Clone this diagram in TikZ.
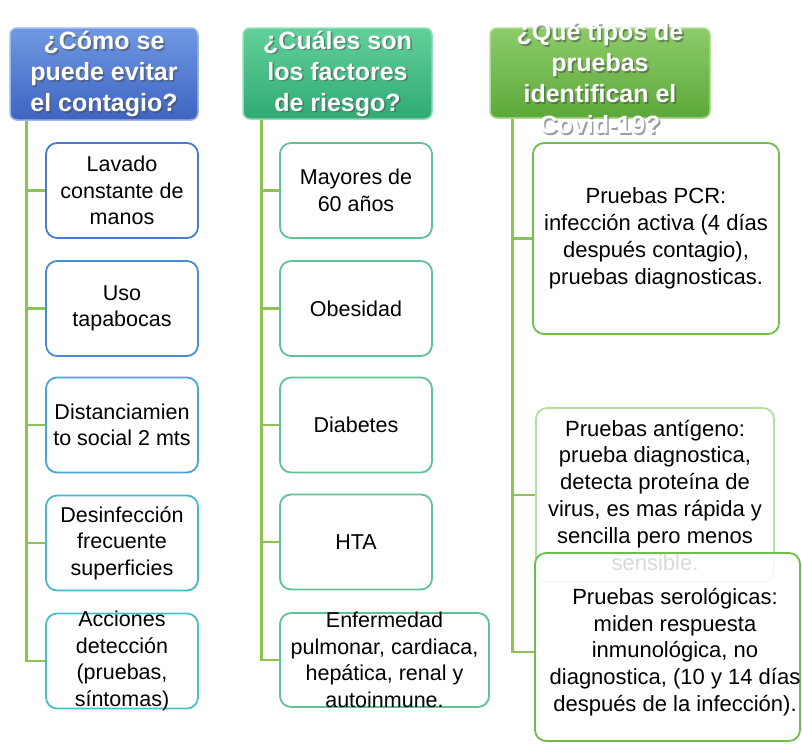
\documentclass[tikz,border=0pt]{standalone}
\usepackage{fontspec}
\setmainfont{Liberation Sans}
\usepackage{tikz}
\usetikzlibrary{positioning, calc, shapes}
\definecolor{azulcab}{RGB}{62,100,192}
\definecolor{azulcabtop}{RGB}{112,152,226}
\definecolor{tealcab}{RGB}{48,170,115}
\definecolor{tealcabtop}{RGB}{98,208,155}
\definecolor{verdecab}{RGB}{92,168,58}
\definecolor{verdecabtop}{RGB}{140,204,105}
\definecolor{ramita}{RGB}{140,195,85}
\definecolor{bordeA}{RGB}{72,122,214}
\definecolor{bordeB}{RGB}{72,140,214}
\definecolor{bordeC}{RGB}{72,165,214}
\definecolor{bordeD}{RGB}{72,182,205}
\definecolor{bordeE}{RGB}{72,192,200}
\definecolor{bordeT}{RGB}{95,195,150}
\definecolor{bordeV}{RGB}{110,190,75}
\tikzset{>=stealth,
	cabeza/.style={rounded corners=7pt, draw=#1top!70!white, line width=1.5pt, top color=#1top, bottom color=#1},
	cabtexto/.style={text=white, align=center, inner sep=0pt, font=\bfseries\fontsize{25}{31}\selectfont},
	cabsombra/.style={cabtexto, text=black!70, text opacity=0.55},
	caja/.style={draw=#1, line width=1.8pt, rounded corners=11pt, fill=white, inner sep=0pt},
	cajita/.style={caja=#1, minimum width=152pt, minimum height=95pt},
	texto/.style={align=center, inner sep=0pt, font=\fontsize{21.5}{26.6}\selectfont},
	textog/.style={texto, font=\fontsize{22}{26.8}\selectfont},
	rama/.style={ramita, line width=2.6pt}
}
\begin{document}
\begin{tikzpicture}[x=1pt, y=-1pt]
	\useasboundingbox (0,0) rectangle (802,747);

	% cabeceras
	\node[cabeza=azulcab, minimum width=188pt, minimum height=92pt] (h1) at (104,74) {};
	\node[cabeza=tealcab, minimum width=189pt, minimum height=91pt] (h2) at (337.5,73.5) {};
	\node[cabeza=verdecab, minimum width=220pt, minimum height=90pt] (h3) at (600,73) {};

	\coordinate (t1) at ($(h1.south west)+(17,0)$);
	\coordinate (t2) at ($(h2.south west)+(19,0)$);
	\coordinate (t3) at ($(h3.south west)+(23,0)$);

	% columna 1
	\node[cajita=bordeA] (b1) at (122,190.5) {};
	\node[cajita=bordeB] (b2) at (122,308.5) {};
	\node[cajita=bordeC] (b3) at (122,425) {};
	\node[cajita=bordeD] (b4) at (122,543) {};
	\node[cajita=bordeE] (b5) at (122,661) {};

	\draw[rama] (t1) |- (b5.west);
	\foreach \b in {b1,b2,b3,b4}
		\draw[rama] (t1 |- \b.west) -- (\b.west);

	\node[texto] (b1t) at (b1) {Lavado\\constante de\\manos};
	\node[texto] (b2t) at (b2) {Uso\\tapabocas};
	\node[texto] (b3t) at (b3) {Distanciamien\\to social 2 mts};
	\node[texto] (b4t) at (b4) {Desinfección\\frecuente\\superficies};
	\node[texto] (b5t) at (b5) {Acciones\\detección\\(pruebas,\\síntomas)};

	% columna 2
	\node[cajita=bordeT] (c1) at (356,190.5) {};
	\node[cajita=bordeT] (c2) at (356,308.5) {};
	\node[cajita=bordeT] (c3) at (356,425) {};
	\node[cajita=bordeT] (c4) at (356,542) {};
	\node[caja=bordeT, minimum width=209pt, minimum height=94pt] (c5) at (384.5,660) {};

	\draw[rama] (t2) |- (c5.west);
	\foreach \c in {c1,c2,c3,c4}
		\draw[rama] (t2 |- \c.west) -- (\c.west);

	\node[texto] (c1t) at (c1) {Mayores de\\60 años};
	\node[texto] (c2t) at (c2) {Obesidad};
	\node[texto] (c3t) at (c3) {Diabetes};
	\node[texto] (c4t) at (c4) {HTA};
	\node[texto] (c5t) at (c5) {Enfermedad\\pulmonar, cardiaca,\\hepática, renal y\\autoinmune.};

	% columna 3
	\node[caja=bordeV, minimum width=246pt, minimum height=191pt] (d1) at (656,238.5) {};
	\node[caja=bordeV, minimum width=238pt, minimum height=174pt, draw opacity=0.5] (d2) at (655,495) {};
	\node[textog] (d1t) at (d1) {Pruebas PCR:\\infección activa (4 días\\después contagio),\\pruebas diagnosticas.};
	\node[textog] (d2t) at (d2) {Pruebas antígeno:\\prueba diagnostica,\\detecta proteína de\\virus, es mas rápida y\\sencilla pero menos\\sensible.};
	\node[caja=bordeV, fill opacity=0.85, minimum width=265pt, minimum height=188pt] (d3) at (667.5,647) {};
	\node[textog] (d3t) at (675,652) {Pruebas serológicas:\\miden respuesta\\inmunológica, no\\diagnostica, (10 y 14 días\\después de la infección).};

	\draw[rama] (t3) |- (d3t.west -| d3.west);
	\foreach \d in {d1,d2}
		\draw[rama] (t3 |- \d.west) -- (\d.west);

	% textos de cabecera
	\node[cabsombra] (h1s) at ($(h1)+(1.6,1.6)$) {¿Cómo se\\puede evitar\\el contagio?};
	\node[cabtexto] (h1t) at (h1) {¿Cómo se\\puede evitar\\el contagio?};
	\node[cabsombra] (h2s) at ($(h2)+(1.6,1.6)$) {¿Cuáles son\\los factores\\de riesgo?};
	\node[cabtexto] (h2t) at (h2) {¿Cuáles son\\los factores\\de riesgo?};
	\node[cabsombra] (h3s) at ($(h3)+(1.6,6.6)$) {¿Qué tipos de\\pruebas\\identifican el\\Covid-19?};
	\node[cabtexto] (h3t) at ($(h3)+(0,5)$) {¿Qué tipos de\\pruebas\\identifican el\\Covid-19?};

\end{tikzpicture}
\end{document}
